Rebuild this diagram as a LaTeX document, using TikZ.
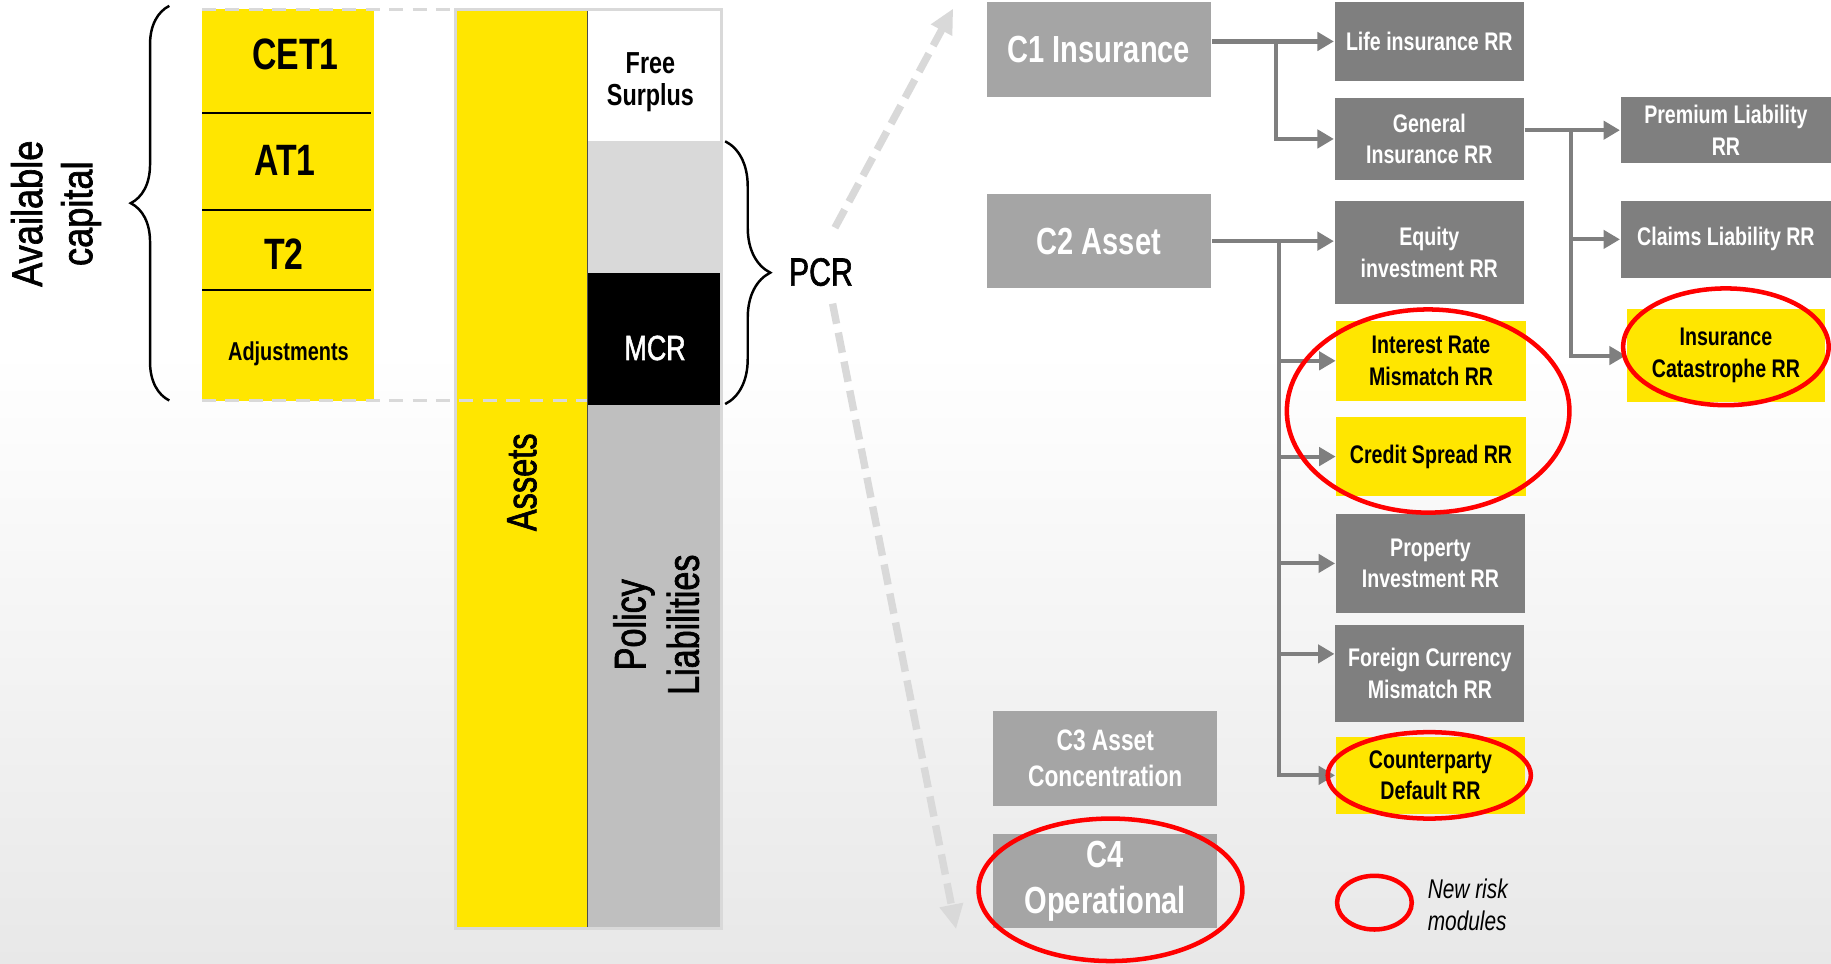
\documentclass[tikz,border=0pt]{standalone}
\usepackage{fontspec}
\setmainfont{Liberation Sans}
\newfontfamily\cond[FakeStretch=0.77]{Liberation Sans}
\newfontfamily\condmed[FakeStretch=0.77, FakeBold=1.5]{Liberation Sans}
\newfontfamily\widemed[FakeStretch=0.84, FakeBold=1.5]{Liberation Sans}
\usepackage{xcolor}
\usepackage{tikz}
\usetikzlibrary{arrows.meta,positioning,calc,decorations.pathreplacing}

\definecolor{eyyellow}{HTML}{FFE600}
\definecolor{capgray}{HTML}{A5A5A5}
\definecolor{rrgray}{HTML}{7F7F7F}
\definecolor{gapgray}{HTML}{D9D9D9}
\definecolor{polgray}{HTML}{BFBFBF}
\definecolor{newred}{HTML}{FF0000}

\tikzset{
  capbox/.style={fill=capgray, text=white, inner sep=0pt, align=center, minimum width=19.2mm, minimum height=8.1mm, font=\cond\bfseries\fontsize{9.2}{11.2}\selectfont},
  rrbox/.style={fill=rrgray, text=white, inner sep=0pt, align=center, minimum width=16.2mm, font=\cond\bfseries\fontsize{6.2}{7.7}\selectfont},
  newbox/.style={rrbox, fill=eyyellow, text=black},
  stacklabel/.style={inner sep=0pt, font=\cond\bfseries\fontsize{10.7}{12}\selectfont},
  sheetlabel/.style={inner sep=0pt, align=center, font=\condmed\fontsize{10.3}{12}\selectfont},
  link/.style={draw=rrgray, line width=1pt, -{Triangle[length=4pt,width=4.4pt]}},
  newring/.style={draw=newred, line width=1.1pt},
  pcrlink/.style={draw=gapgray, line width=1.8pt, dash pattern=on 5pt off 2.2pt, -{Triangle[length=6pt,width=5.5pt]}},
  edge/.style={draw=gapgray, line width=0.8pt, dash pattern=on 3.4pt off 2.3pt},
  bigbrace/.style={decorate, decoration={brace, amplitude=#1}, line width=0.6pt}
}

\begin{document}
\begin{tikzpicture}[x=0.1mm, y=-0.1mm]
\useasboundingbox (0,0) rectangle (1568,825);
\shade[top color=white, bottom color=black!9] (0,300) rectangle (1568,825);

% capital stack
\fill[eyyellow] (173,8) rectangle (320,343);
\foreach \y in {97,180,248}
  \draw[line width=0.5pt] (173,\y) -- (318,\y);
\node[stacklabel] (cet1) at (253,47) {CET1};
\node[stacklabel] (at1) at (244,137) {AT1};
\node[stacklabel] (t2) at (243,218) {T2};
\node[stacklabel, font=\cond\bfseries\fontsize{6.3}{7}\selectfont] (adj) at (247,303) {Adjustments};
\draw[bigbrace=9.4pt] (145,343) -- (145,5);
\node[rotate=90, align=center, font=\widemed\fontsize{10.5}{12.2}\selectfont] (avail) at (48,183) {Available\\capital};

% balance sheet
\fill[eyyellow] (390,8) rectangle (503,795);
\fill[white] (503,8) rectangle (618,121);
\fill[gapgray] (503,121) rectangle (618,234);
\fill[black] (503,234) rectangle (618,347);
\fill[polgray] (503,347) rectangle (618,795);
\draw[black!70, line width=0.4pt] (503,8) -- (503,795);
\draw[gapgray, line width=0.8pt] (390,8) rectangle (618,795);
\draw[edge] (173,8) -- (440,8);
\draw[edge] (173,343) -- (503,343);
\node[sheetlabel, rotate=90] (assets) at (447,413) {Assets};
\node[sheetlabel, font=\cond\bfseries\fontsize{7.4}{7.7}\selectfont] (free) at (557,70.5) {Free\\Surplus};
\node[sheetlabel, text=white, font=\condmed\fontsize{8.5}{10}\selectfont] (mcr) at (561,298) {MCR};
\node[sheetlabel, rotate=90, font=\condmed\fontsize{10.8}{13}\selectfont] (pol) at (562,535) {Policy\\Liabilities};

% PCR
\draw[bigbrace=11pt] (621,121) -- (621,346);
\node[sheetlabel, font=\condmed\fontsize{9.6}{11}\selectfont] (pcr) at (703,233) {PCR};

% risk modules
\node[capbox] (c1) at (941,42.5) {C1 Insurance};
\node[capbox] (c2) at (941,206.5) {C2 Asset};
\node[capbox, font=\cond\bfseries\fontsize{7.2}{8.7}\selectfont] (c3) at (946.5,649.5) {C3 Asset\\Concentration};
\node[capbox] (c4) at (946.5,754.5) {C4\\Operational};

\node[rrbox, minimum height=6.7mm] (life) at (1224,35.5) {Life insurance RR};
\node[rrbox, minimum height=7mm] (gen) at (1224,119) {General\\Insurance RR};
\node[rrbox, minimum height=8.8mm] (eq) at (1224,216) {Equity\\investment RR};
\node[newbox, minimum height=6.8mm] (irr) at (1225.5,309) {Interest Rate\\Mismatch RR};
\node[newbox, minimum height=6.8mm] (csr) at (1225.5,391) {Credit Spread RR};
\node[rrbox, minimum height=8.5mm] (prop) at (1225,482.5) {Property\\Investment RR};
\node[rrbox, minimum height=8.3mm] (fx) at (1224.5,576.5) {Foreign Currency\\Mismatch RR};
\node[newbox, minimum height=6.6mm] (cpd) at (1225,664) {Counterparty\\Default RR};
\node[rrbox, minimum width=18mm, minimum height=5.7mm] (prem) at (1478,111.5) {Premium Liability\\RR};
\node[rrbox, minimum width=18mm, minimum height=6.6mm] (claims) at (1478,205) {Claims Liability RR};
\node[newbox, minimum width=17mm, minimum height=7.9mm] (icat) at (1478,304.5) {Insurance\\Catastrophe RR};

% connectors
\coordinate (j1) at (1093,0);
\coordinate (j2) at (1095,0);
\coordinate (j3) at (1345,0);
\draw[link] (c1.east |- life.west) -- (life.west);
\draw[link] (j1 |- life.west) |- (gen.west);
\draw[link] (c2.east) -- (c2.east -| eq.west);
\foreach \n in {irr,csr,prop,cpd}
  \draw[link] (j2 |- c2.east) |- (\n.west);
\draw[link] (j2 |- c2.east) |- ([yshift=4.7pt]fx.west);
\draw[link] (gen.east |- prem.west) -- (prem.west);
\foreach \n in {claims,icat}
  \draw[link] (j3 |- prem.west) |- (\n.west);

% PCR split
\draw[pcrlink] ([shift={(12,-38)}]pcr.center) -- ([shift={(-28,6)}]c1.north west);
\draw[pcrlink] ([shift={(10,27)}]pcr.center) -- ([shift={(-31,0)}]c4.south west);

% new risk modules
\draw[newring] (1223,352) ellipse [x radius=12.1mm, y radius=8.7mm];
\draw[newring] (1478,297) ellipse [x radius=8.8mm, y radius=5mm];
\draw[newring] (1224,664) ellipse [x radius=8.7mm, y radius=3.7mm];
\draw[newring] (951,762) ellipse [x radius=11.3mm, y radius=6.1mm];
\draw[newring] (1177,773) ellipse [x radius=3.2mm, y radius=2.3mm];
\node[anchor=west, align=left, inner sep=0pt, font=\cond\itshape\fontsize{6.6}{7.9}\selectfont] (legend) at (1222,775) {New risk\\modules};
\end{tikzpicture}
\end{document}
